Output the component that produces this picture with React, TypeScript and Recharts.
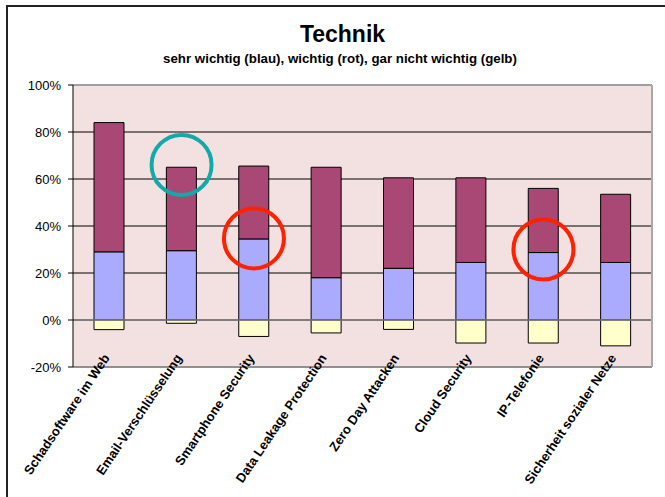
import React from "react";
import {
  BarChart,
  Bar,
  XAxis,
  YAxis,
  CartesianGrid,
  ReferenceLine,
  ReferenceDot,
} from "recharts";

const categories = [
  "Schadsoftware im Web",
  "Email-Verschlüsselung",
  "Smartphone Security",
  "Data Leakage Protection",
  "Zero Day Attacken",
  "Cloud Security",
  "IP-Telefonie",
  "Sicherheit sozialer Netze",
];
const sehrWichtig = [29, 29.5, 34.5, 18, 22, 24.5, 28.7, 24.5];
const wichtig = [55, 35.5, 31, 47, 38.5, 36, 27.3, 29];
const garNichtWichtig = [-4.1, -1.4, -7, -5.5, -4, -9.8, -9.8, -11];
const yTicks = [-20, 0, 20, 40, 60, 80, 100];

const circleCats = ["Email-Verschlüsselung", "Smartphone Security", "IP-Telefonie"];
const circleVals = [66, 34.7, 30];
const circleColors = ["#13A9A9", "#FF2200", "#FF2200"];

const data = categories.map((name, i) => ({
  name,
  blau: sehrWichtig[i],
  rot: wichtig[i],
  gelb: garNichtWichtig[i],
}));

const FONT = "'Liberation Sans', Arial, sans-serif";

const XTick = (props: any) => {
  const { x, y, payload } = props;
  return (
    <g transform={`translate(${x + 1},${y - 9}) rotate(-56)`}>
      <text
        x={0}
        y={0}
        textAnchor="end"
        fontFamily={FONT}
        fontWeight="bold"
        fontSize={13}
        fill="#000"
      >
        {payload.value}
      </text>
    </g>
  );
};

export default function App() {
  return (
    <div
      style={{
        position: "fixed",
        left: 0,
        top: 0,
        width: 665,
        height: 497,
        background: "#fff",
        overflow: "hidden",
      }}
    >
      <div
        style={{
          position: "absolute",
          left: 6,
          top: 5,
          width: 700,
          height: 600,
          borderTop: "2px solid #222",
          borderLeft: "2px solid #222",
        }}
      />
      <div
        style={{
          position: "absolute",
          left: 0,
          width: 685,
          top: 21,
          textAlign: "center",
          fontFamily: FONT,
          fontWeight: "bold",
          fontSize: 23,
          lineHeight: "26px",
          color: "#000",
        }}
      >
        Technik
      </div>
      <div
        style={{
          position: "absolute",
          left: 0,
          width: 680,
          top: 51,
          textAlign: "center",
          fontFamily: FONT,
          fontWeight: "bold",
          fontSize: 13.3,
          lineHeight: "16px",
          color: "#000",
        }}
      >
        sehr wichtig (blau), wichtig (rot), gar nicht wichtig (gelb)
      </div>
      <div style={{ position: "absolute", left: 0, top: 0 }}>
        <BarChart
          width={665}
          height={497}
          data={data}
          stackOffset="sign"
          barSize={30}
          margin={{ top: 85, right: 12, bottom: 5, left: 8 }}
        >
          <CartesianGrid
            vertical={false}
            horizontal={true}
            stroke="#000"
            fill="#F3E1E1"
            fillOpacity={1}
          />
          <XAxis
            dataKey="name"
            interval={0}
            height={125}
            tickSize={0}
            tickMargin={0}
            tickLine={false}
            axisLine={{ stroke: "#909090", strokeWidth: 2 }}
            tick={<XTick />}
          />
          <YAxis
            domain={[-20, 100]}
            ticks={yTicks}
            width={65}
            tickSize={5}
            tickMargin={7}
            axisLine={{ stroke: "#000" }}
            tickLine={{ stroke: "#000" }}
            tickFormatter={(v: number) => `${v}%`}
            tick={{ fill: "#000", fontSize: 13, fontFamily: FONT }}
            allowDataOverflow
          />
          <YAxis
            yAxisId="right"
            orientation="right"
            domain={[-20, 100]}
            width={1}
            tick={false}
            tickLine={false}
            axisLine={{ stroke: "#A8A8A8", strokeWidth: 2 }}
          />
          <ReferenceLine y={100} stroke="#A0A0A0" strokeWidth={2} />
          <ReferenceLine y={0} stroke="#808080" strokeWidth={1.5} />
          <Bar
            dataKey="blau"
            stackId="s"
            fill="#AAAAFF"
            stroke="#000"
            strokeWidth={1}
            isAnimationActive={false}
          />
          <Bar
            dataKey="rot"
            stackId="s"
            fill="#A94874"
            stroke="#000"
            strokeWidth={1}
            isAnimationActive={false}
          />
          <Bar
            dataKey="gelb"
            stackId="s"
            fill="#FFFFCC"
            stroke="#000"
            strokeWidth={1}
            isAnimationActive={false}
          />
          {circleCats.map((c, i) => (
            <ReferenceDot
              key={c}
              x={c}
              y={circleVals[i]}
              r={30}
              fill="none"
              stroke={circleColors[i]}
              strokeWidth={4}
              ifOverflow="visible"
            />
          ))}
        </BarChart>
      </div>
    </div>
  );
}
